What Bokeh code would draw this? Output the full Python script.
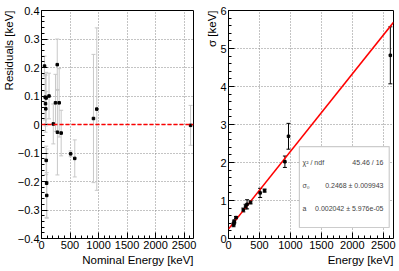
from bokeh.plotting import figure
from bokeh.layouts import row
from bokeh.models import (Range1d, SingleIntervalTicker, Whisker, ColumnDataSource,
                          Label, Span, BoxAnnotation, TeeHead, Title)
from bokeh.embed import file_html
from bokeh.resources import INLINE

# ---------------- data ----------------
res_energy = [53, 64, 70, 75, 81, 82, 90, 92, 132, 207, 245, 276, 279, 310, 345, 511, 583, 911, 969, 2614]
res_value = [0.205, 0.096, 0.073, 0.055, 0.093, -0.126, -0.206, -0.249, 0.100, 0.002,
             0.076, 0.210, -0.027, 0.076, -0.030, -0.103, -0.119, 0.021, 0.054, -0.003]
res_error = [0.035, 0.08, 0.10, 0.06, 0.09, 0.05, 0.12, 0.08, 0.08, 0.07,
             0.10, 0.09, 0.15, 0.12, 0.08, 0.01, 0.065, 0.225, 0.285, 0.07]

sig_energy = [81, 88, 95, 122, 239, 276, 300, 356, 511, 583, 911, 969, 2614]
sig_value = [0.36, 0.41, 0.45, 0.55, 0.75, 0.84, 0.90, 0.95, 1.20, 1.26, 2.02, 2.69, 4.82]
sig_error = [0.05, 0.05, 0.04, 0.03, 0.05, 0.06, 0.12, 0.04, 0.12, 0.04, 0.15, 0.34, 0.75]

fit_sigma0 = 0.2468
fit_a = 0.002042

stats_names = ["χ² / ndf", "σ₀", "a"]
stats_values = ["45.46 / 16", "0.2468 ± 0.009943", "0.002042 ± 5.976e-05"]

X_END = 2665
FONT = "Liberation Sans"
TICK_FS = "11px"
TITLE_FS = "11.5px"


def style(p, y_interval):
    p.outline_line_color = "black"
    p.outline_line_width = 1
    p.background_fill_color = "white"
    p.border_fill_color = "white"
    p.xaxis.ticker = SingleIntervalTicker(interval=500, num_minor_ticks=5)
    p.yaxis.ticker = SingleIntervalTicker(interval=y_interval, num_minor_ticks=5)
    for ax in (p.xaxis, p.yaxis):
        ax.axis_line_color = None
        ax.major_tick_in = 6
        ax.major_tick_out = 0
        ax.minor_tick_in = 3
        ax.minor_tick_out = 0
        ax.major_tick_line_color = "black"
        ax.minor_tick_line_color = "black"
        ax.major_label_text_font = FONT
        ax.major_label_text_font_size = TICK_FS
        ax.major_label_text_color = "black"
        ax.major_label_standoff = 2
    for g in (p.xgrid, p.ygrid):
        g.grid_line_color = "#888888"
        g.grid_line_dash = "1 2"
        g.grid_line_width = 1


def axis_title(p, text, side):
    t = Title(text=text, align="right", text_font=FONT, text_font_size=TITLE_FS,
              text_font_style="normal", text_color="black", standoff=0, offset=0)
    p.add_layout(t, side)


# ---------------- left: residuals ----------------
pl = figure(width=200, height=271, x_range=Range1d(0, X_END), y_range=Range1d(-0.4, 0.4),
            output_backend="svg", toolbar_location=None,
            min_border_left=36, min_border_right=7, min_border_top=10, min_border_bottom=33)
style(pl, 0.1)

rsrc = ColumnDataSource(dict(
    x=res_energy, y=res_value,
    lo=[v - e for v, e in zip(res_value, res_error)],
    hi=[v + e for v, e in zip(res_value, res_error)]))
pl.add_layout(Whisker(source=rsrc, base="x", lower="lo", upper="hi",
                      line_color="#c8c8c8", line_width=1,
                      lower_head=TeeHead(size=4, line_color="#c8c8c8"),
                      upper_head=TeeHead(size=4, line_color="#c8c8c8")))
pl.scatter("x", "y", source=rsrc, marker="square", size=2.5, color="black")
pl.add_layout(Span(location=0, dimension="width", line_color="red",
                   line_dash="4 2", line_width=1.5))
axis_title(pl, "Nominal Energy [keV]", "below")
axis_title(pl, "Residuals [keV]", "left")

# ---------------- right: sigma ----------------
pr = figure(width=199, height=271, x_range=Range1d(0, X_END), y_range=Range1d(0, 6),
            output_backend="svg", toolbar_location=None,
            min_border_left=28, min_border_right=6, min_border_top=10, min_border_bottom=33)
style(pr, 1)

pr.line([0, X_END], [fit_sigma0, fit_sigma0 + fit_a * X_END], line_color="red", line_width=1.5)

ssrc = ColumnDataSource(dict(
    x=sig_energy, y=sig_value,
    lo=[v - e for v, e in zip(sig_value, sig_error)],
    hi=[v + e for v, e in zip(sig_value, sig_error)]))
pr.add_layout(Whisker(source=ssrc, base="x", lower="lo", upper="hi",
                      line_color="black", line_width=1,
                      lower_head=TeeHead(size=4, line_color="black"),
                      upper_head=TeeHead(size=4, line_color="black")))
pr.scatter("x", "y", source=ssrc, marker="square", size=2.5, color="black")

# stats box
pr.add_layout(BoxAnnotation(left=1145, right=2596, top=2.42, bottom=0.29,
                            fill_color="white", fill_alpha=1,
                            line_color="#555555", line_width=1.2))
row_dy = [-152, -175, -198]
for name, val, dy in zip(stats_names, stats_values, row_dy):
    pr.add_layout(Label(x=0, y=6, x_offset=74, y_offset=dy, text=name,
                        text_align="left", text_baseline="middle",
                        text_font=FONT, text_font_size="7px"))
    pr.add_layout(Label(x=0, y=6, x_offset=155, y_offset=dy, text=val,
                        text_align="right", text_baseline="middle",
                        text_font=FONT, text_font_size="7px"))

axis_title(pr, "Energy [keV]", "below")
axis_title(pr, "σ [keV]", "left")

layout = row(pl, pr)
open("out.html", "w").write(file_html(layout, INLINE))
